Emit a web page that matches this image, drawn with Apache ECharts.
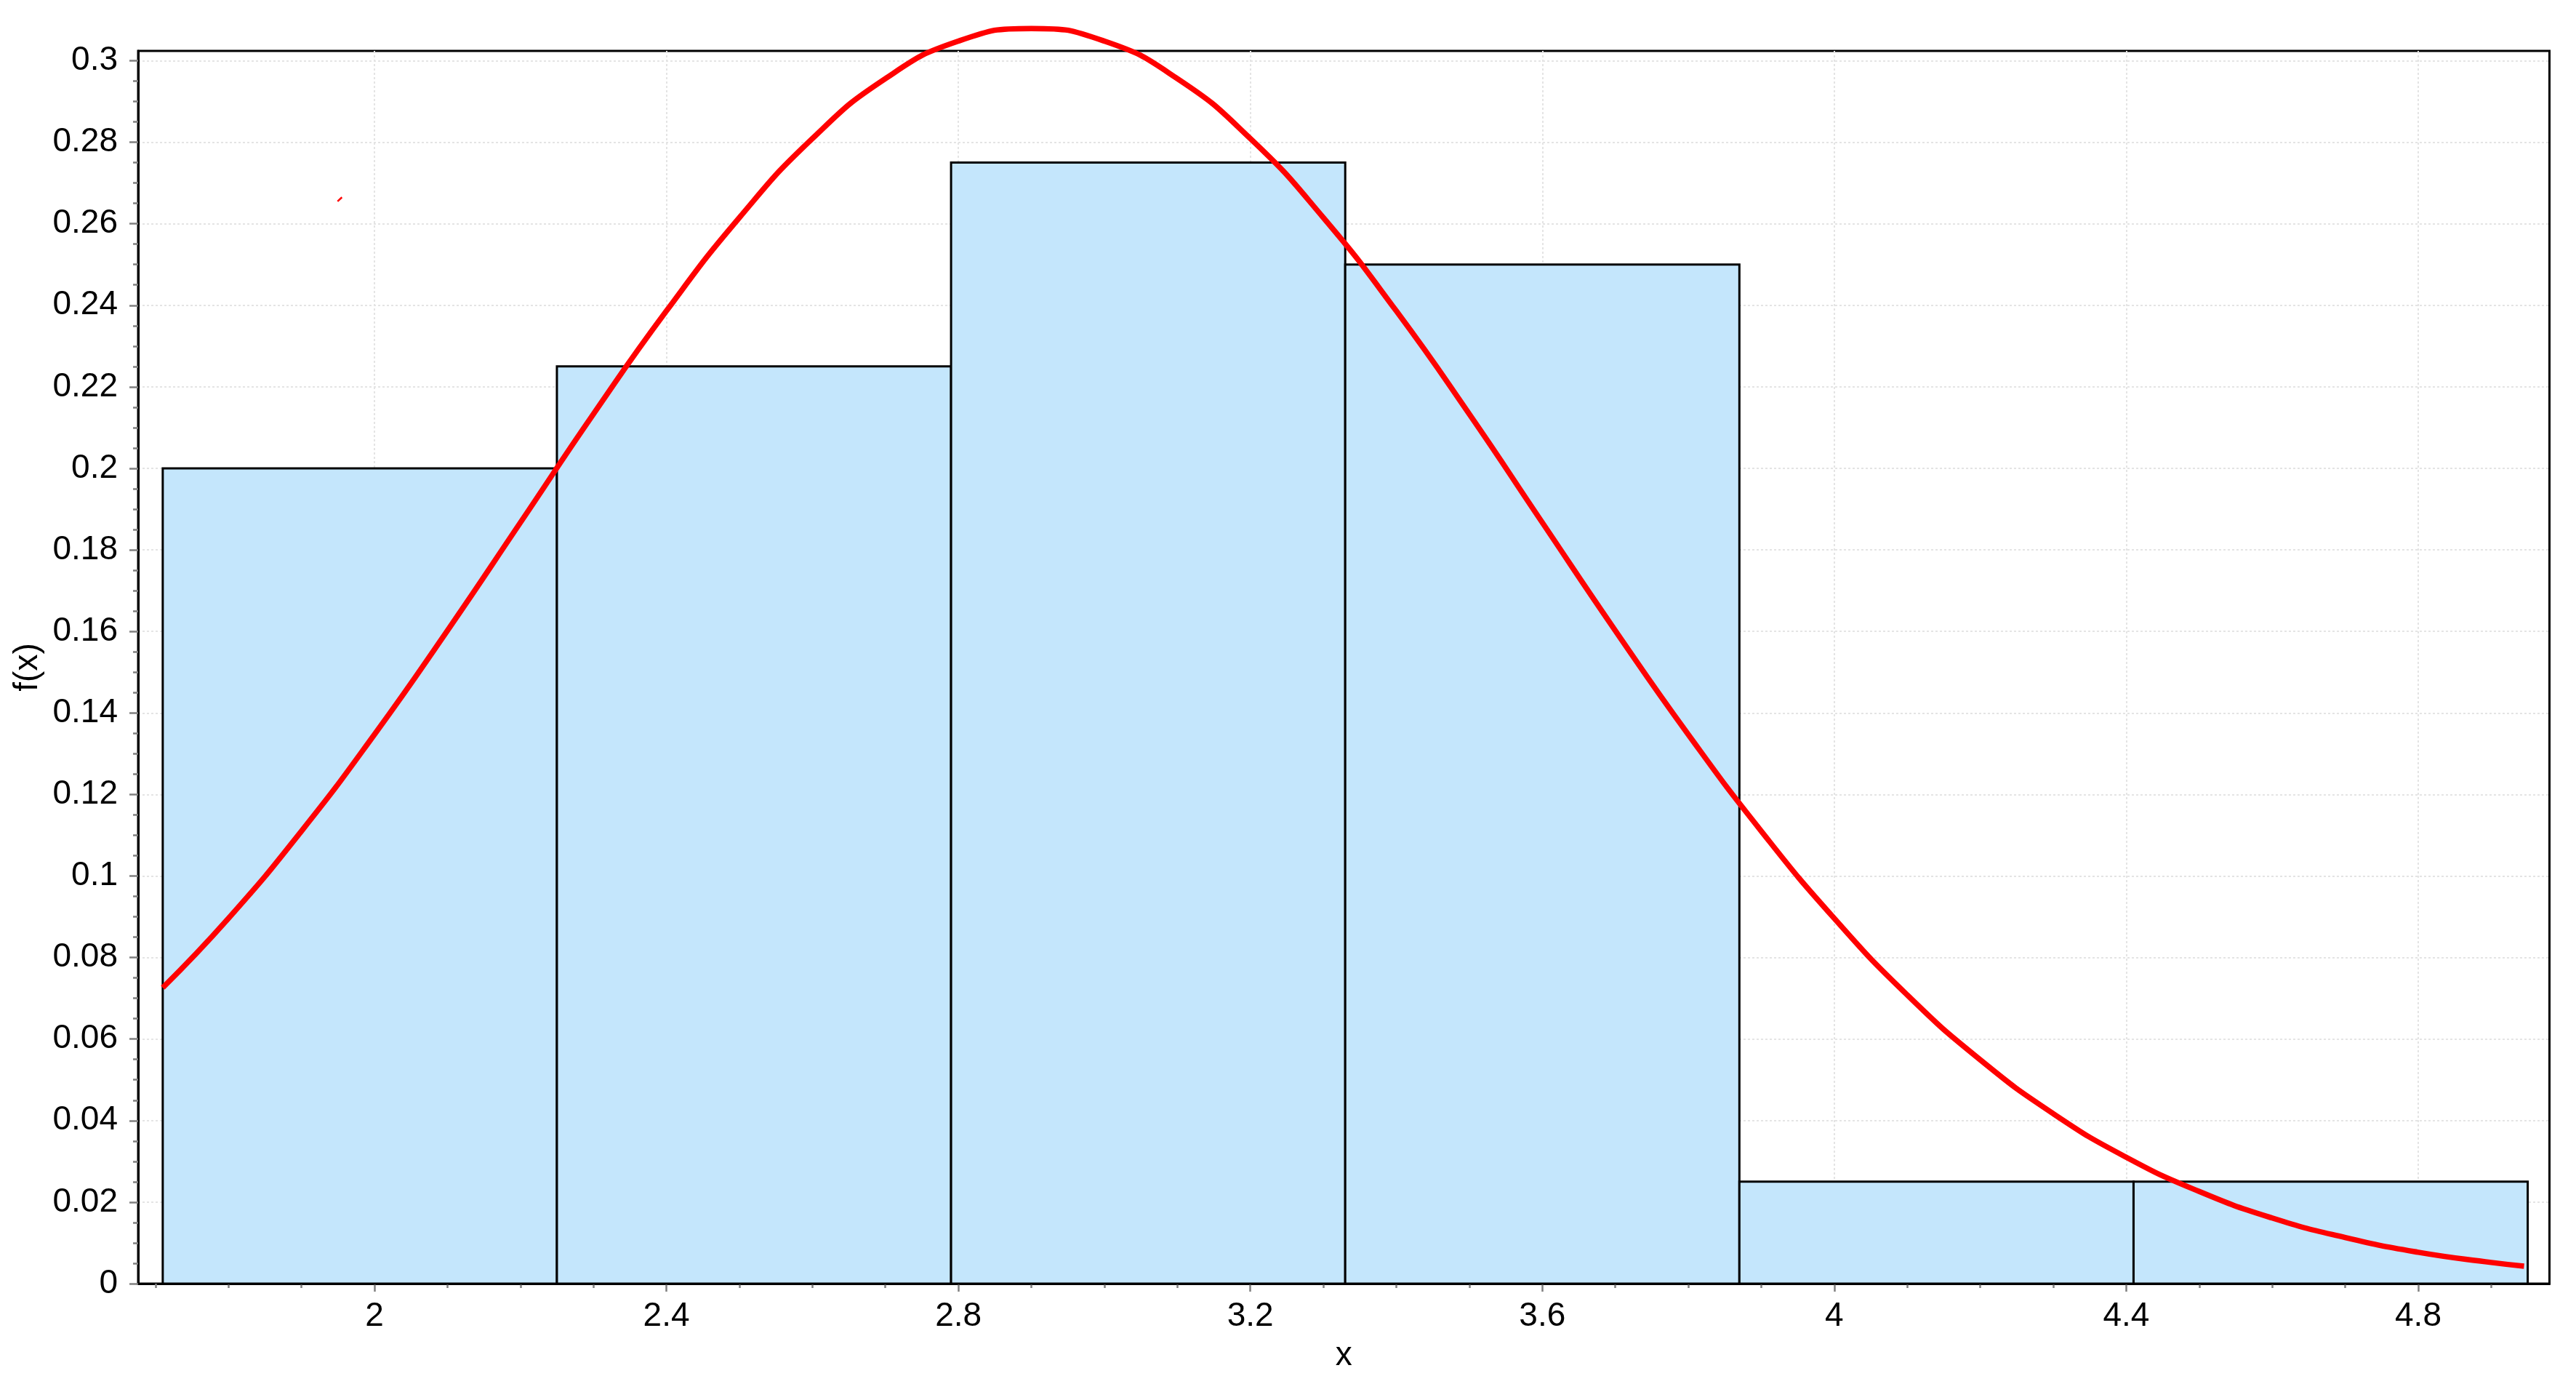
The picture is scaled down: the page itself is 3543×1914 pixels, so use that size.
<!DOCTYPE html>
<html><head><meta charset="utf-8">
<script src="https://cdn.jsdelivr.net/npm/echarts@6/dist/echarts.min.js"></script>
<style>html,body{margin:0;padding:0;background:#fff}#c{width:3543px;height:1914px}</style>
</head><body><div id="c"></div>
<script>
// Histogram bins (relative frequencies)
const binEdges = [1.71, 2.25, 2.79, 3.33, 3.87, 4.41, 4.95];
const binHeights = [0.2, 0.225, 0.275, 0.25, 0.025, 0.025];

// Red fitted curve
const curveX = [1.71, 1.8, 1.9, 2.0, 2.1, 2.2, 2.3, 2.4, 2.5, 2.6, 2.7, 2.8, 2.9, 3.0, 3.1, 3.2, 3.3, 3.4, 3.5, 3.6, 3.7, 3.8, 3.9, 4.0, 4.1, 4.2, 4.3, 4.4, 4.5, 4.6, 4.7, 4.8, 4.9, 4.945];
const curveY = [0.0726, 0.0896, 0.1110, 0.1347, 0.1602, 0.1867, 0.2133, 0.2386, 0.2615, 0.2809, 0.2956, 0.3048, 0.3079, 0.3048, 0.2956, 0.2809, 0.2615, 0.2386, 0.2133, 0.1867, 0.1602, 0.1347, 0.1110, 0.0896, 0.0708, 0.0549, 0.0417, 0.0310, 0.0226, 0.0161, 0.0113, 0.0077, 0.0052, 0.0043];

// Small stray red mark near the top-left
const strayX = [1.9495, 1.9555];
const strayY = [0.2655, 0.2665];

// Axis ticks
const xTicks = [2, 2.4, 2.8, 3.2, 3.6, 4, 4.4, 4.8];
const yTicks = [0, 0.02, 0.04, 0.06, 0.08, 0.1, 0.12, 0.14, 0.16, 0.18, 0.2, 0.22, 0.24, 0.26, 0.28, 0.3];
const xMin = 1.6763, xMax = 4.9798;
const yMin = 0, yMax = 0.3024;

function minorBetween(ticks, lo, hi, parts) {
  const step = (ticks[1] - ticks[0]) / parts;
  const out = [];
  const start = ticks[0] - Math.ceil((ticks[0] - lo) / step) * step;
  for (let v = start; v <= hi + 1e-9; v += step) {
    const r = Math.round(v * 10000) / 10000;
    if (!ticks.some(t => Math.abs(t - r) < 1e-6)) out.push(r);
  }
  return out;
}
const xMinor = minorBetween(xTicks, xMin, xMax, 4);
const yMinor = minorBetween(yTicks, yMin, yMax, 4).filter(v => v >= 0);

const FONT = '"Liberation Sans", Arial, sans-serif';
const fmt = v => String(+(+v).toFixed(4));

const chart = echarts.init(document.getElementById('c'), null, {renderer: 'canvas'});
chart.setOption({
  animation: false,
  backgroundColor: '#ffffff',
  grid: {left: 190, right: 36.5, top: 70, bottom: 149, show: true, borderColor: '#000', borderWidth: 3, backgroundColor: 'transparent'},
  xAxis: [{
    type: 'value', min: xMin, max: xMax, position: 'bottom',
    name: 'x', nameLocation: 'middle', nameGap: 76,
    nameTextStyle: {fontFamily: FONT, fontSize: 46, color: '#000'},
    axisLine: {show: true, onZero: false, lineStyle: {color: '#000', width: 3}},
    axisTick: {show: true, customValues: xTicks, length: 11, lineStyle: {color: '#808080', width: 2.5}},
    axisLabel: {show: true, customValues: xTicks, formatter: fmt, margin: 22, fontFamily: FONT, fontSize: 46, color: '#000'},
    splitLine: {show: true, lineStyle: {color: '#e4e4e4', width: 2, type: [3, 3]}},
    minorTick: {show: false}
  }, {
    type: 'value', min: xMin, max: xMax, position: 'bottom',
    axisLine: {show: false},
    axisTick: {show: true, customValues: xMinor, length: 6, lineStyle: {color: '#808080', width: 2.5}},
    axisLabel: {show: false},
    splitLine: {show: false}
  }],
  yAxis: [{
    type: 'value', min: yMin, max: yMax, position: 'left',
    name: 'f(x)', nameLocation: 'middle', nameGap: 126, nameRotate: 90,
    nameTextStyle: {fontFamily: FONT, fontSize: 46, color: '#000'},
    axisLine: {show: true, onZero: false, lineStyle: {color: '#000', width: 3}},
    axisTick: {show: true, customValues: yTicks, length: 12, lineStyle: {color: '#808080', width: 2.5}},
    axisLabel: {show: true, customValues: yTicks, formatter: fmt, margin: 28, fontFamily: FONT, fontSize: 46, color: '#000'},
    splitLine: {show: true, lineStyle: {color: '#e4e4e4', width: 2, type: [3, 3]}},
    minorTick: {show: false}
  }, {
    type: 'value', min: yMin, max: yMax, position: 'left',
    axisLine: {show: false, onZero: false},
    axisTick: {show: true, customValues: yMinor, length: 7, lineStyle: {color: '#808080', width: 2.5}},
    axisLabel: {show: false},
    splitLine: {show: false}
  }],
  series: [{
    type: 'custom',
    xAxisIndex: 0, yAxisIndex: 0,
    renderItem: function (params, api) {
      const x0 = api.value(0), x1 = api.value(1), h = api.value(2);
      const p0 = api.coord([x0, h]);
      const p1 = api.coord([x1, 0]);
      return {
        type: 'rect',
        shape: {x: p0[0], y: p0[1], width: p1[0] - p0[0], height: p1[1] - p0[1]},
        style: {fill: '#c4e6fc', stroke: '#000', lineWidth: 3}
      };
    },
    encode: {x: [0, 1], y: 2},
    data: binHeights.map((h, i) => [binEdges[i], binEdges[i + 1], h]),
    z: 2
  }, {
    type: 'line',
    xAxisIndex: 0, yAxisIndex: 0,
    data: curveX.map((x, i) => [x, curveY[i]]),
    smooth: true, showSymbol: false, symbol: 'none', clip: false,
    lineStyle: {color: '#ff0000', width: 7.5},
    z: 5
  }, {
    type: 'line',
    xAxisIndex: 0, yAxisIndex: 0,
    data: strayX.map((x, i) => [x, strayY[i]]),
    showSymbol: false, symbol: 'none',
    lineStyle: {color: '#ff0000', width: 2.5},
    z: 5
  }]
});
</script>
</body></html>
